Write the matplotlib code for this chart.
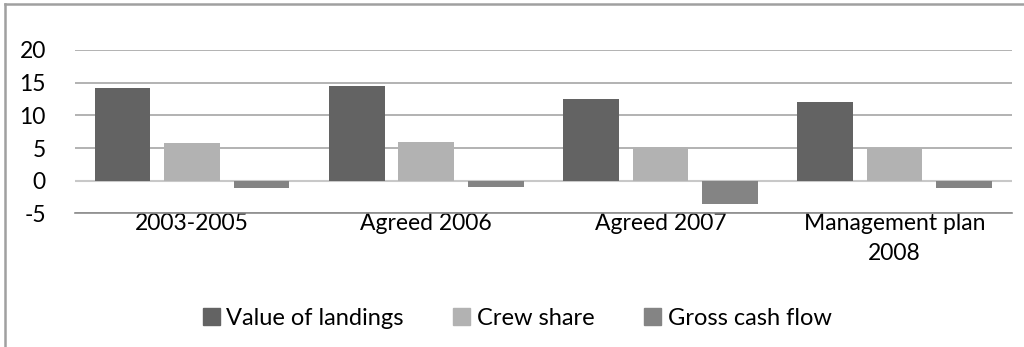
import matplotlib
matplotlib.use("Agg")
import matplotlib.pyplot as plt
import numpy as np
from matplotlib.lines import Line2D

plt.rcParams['font.family'] = ['Lato', 'DejaVu Sans']

categories = ["2003-2005", "Agreed 2006", "Agreed 2007", "Management plan\n2008"]
series_names = ["Value of landings", "Crew share", "Gross cash flow"]
value_of_landings = [14.2, 14.5, 12.5, 12.1]
crew_share = [5.7, 5.9, 5.2, 5.0]
gross_cash_flow = [-1.1, -0.9, -3.5, -1.1]
yticks = [-5, 0, 5, 10, 15, 20]

colors = ["#636363", "#B2B2B2", "#848484"]

fig = plt.figure(figsize=(10.24, 3.47), dpi=100)
ax = fig.add_axes([0.0732, 0.385, 0.9148, 0.471])

x = np.arange(len(categories))
width = 0.238
step = 0.2966
for i, (vals, col, name) in enumerate(zip([value_of_landings, crew_share, gross_cash_flow], colors, series_names)):
    ax.bar(x + (i - 1) * step, vals, width, color=col, label=name, zorder=3)

ax.set_xlim(-0.5, len(categories) - 0.5)
ax.set_ylim(-5, 20)
ax.set_yticks(yticks)
ax.set_yticklabels([str(t) for t in yticks], fontsize=16.5)
ax.yaxis.grid(True, color="#A6A6A6", linewidth=1.2, zorder=0)
ax.axhline(0, color="#C8C8C8", linewidth=1.5, zorder=2)
for s in ["top", "right", "left"]:
    ax.spines[s].set_visible(False)
ax.spines["bottom"].set_color("#8C8C8C")
ax.spines["bottom"].set_linewidth(1.2)
ax.tick_params(axis="both", length=0)
ax.tick_params(axis="y", pad=21)
ax.set_xticks(x)
ax.set_xticklabels(categories, fontsize=16.5, linespacing=1.5)
ax.tick_params(axis="x", pad=0)

handles = [plt.Rectangle((0, 0), 1, 1, color=c) for c in colors]
fig.legend(handles, series_names, loc="center", bbox_to_anchor=(0.505, 0.082), ncol=3,
           frameon=False, fontsize=17, handlelength=0.72, handleheight=0.72,
           handletextpad=0.28, columnspacing=2.1)

# chart border
fig.add_artist(Line2D([0.0044, 0.0044], [0, 0.988], transform=fig.transFigure, color="#A0A0A0", linewidth=1.8))
fig.add_artist(Line2D([0.0044, 1.0], [0.988, 0.988], transform=fig.transFigure, color="#A0A0A0", linewidth=1.8))

fig.savefig("out.png", dpi=100, facecolor="white")
